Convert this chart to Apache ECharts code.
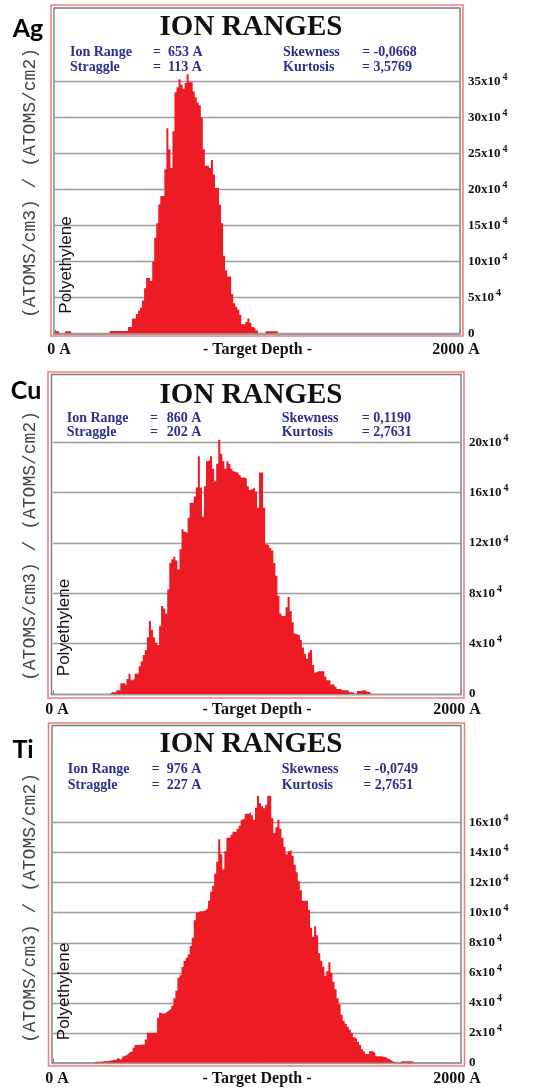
<!DOCTYPE html>
<html><head><meta charset="utf-8">
<script src="https://cdn.jsdelivr.net/npm/echarts@6/dist/echarts.min.js"></script>
<style>html,body{margin:0;padding:0;background:#fff}#c{width:544px;height:1088px}</style>
</head><body><div id="c"></div>
<script>
// ---------- data ----------
const binWidth = 10;            // depth bin width, Angstrom
const depthRange = [0, 2000];
const xTickLabels = ['0 A', '- Target Depth -', '2000 A'];
const elements = ['Ag', 'Cu', 'Ti'];
const chartTitle = 'ION RANGES';
const yAxisName = '(ATOMS/cm3) / (ATOMS/cm2)';
const targetName = 'Polyethylene';

const agStats = [['Ion Range', '=', '653 A', 'Skewness', '= -0,0668'], ['Straggle', '=', '113 A', 'Kurtosis', '= 3,5769']];
const cuStats = [['Ion Range', '=', '860 A', 'Skewness', '= 0,1190'], ['Straggle', '=', '202 A', 'Kurtosis', '= 2,7631']];
const tiStats = [['Ion Range', '=', '976 A', 'Skewness', '= -0,0749'], ['Straggle', '=', '227 A', 'Kurtosis', '= 2,7651']];

const agTicks = [0, 5, 10, 15, 20, 25, 30, 35];      // x10^4
const cuTicks = [0, 4, 8, 12, 16, 20];
const tiTicks = [0, 2, 4, 6, 8, 10, 12, 14, 16];

// histogram heights (x10^4 atoms/cm3 per atoms/cm2), one per 10 A bin starting at 0 A
const agValues = [0.3,0.3,0,0,0,0.3,0.3,0.3,
 0,0,0,0,0,0,0,0,0,0,0,0,0,0,0,0,0,0,0,
 0.35,0.35,0.35,0.35,0.35,0.35,0.35,0.35,0.35,
 0.9,0.9,2.1,2.1,2.7,3.2,3.6,4.6,6.3,7.7,7.7,7.3,10,13.3,15.3,17.9,19.1,19.1,22.8,28.5,25.6,23,28.1,
 33.5,34.2,35.3,34.6,34,34.8,36,34.9,34.9,33.6,32.8,32.1,31.7,30,25.6,23.3,23.3,23,24.1,22.1,20.2,20.2,
 17.9,15.3,10.8,8.8,7.9,7.9,5.5,4.2,3.7,3.3,2.6,1.3,1.3,1.6,2.1,1.5,0.9,0.7,0.4,
 0,0,0,0,0.3,0.3,0.3,0.3,0.3,0.3];

const cuValues = [0,0,0,0,0,0,0,0,0,0,0,0,0,0,0,0,0,0,0,0,0,0,0,0,0,0,0,0,
 0.13,0.13,0.13,0.3,0.3,0.85,0.85,0.7,1.2,1.6,1.1,1.2,1.6,1.6,2.2,2.6,3.1,3.5,4.5,5.8,5.1,4.5,4.1,3.9,
 5.4,7.0,6.8,6.4,8.3,10.4,10.7,10.9,10.6,9.9,11.5,13.1,12.9,12.8,14.0,15.2,15.2,15.7,16.4,18.9,16.4,14.1,
 16.5,18.5,18.6,18.9,17.9,16.9,18.3,20.2,19.1,18.5,17.9,18.5,18.3,17.9,17.7,17.6,17.6,17.4,17.2,17.2,17.1,
 16.5,16.2,16.3,16.4,16.1,14.8,17.6,17.6,14.8,11.9,11.8,11.6,11.4,10.4,9.4,7.8,6.4,6.2,6.2,6.9,7.7,6.6,
 5.7,4.8,4.7,4.7,4.3,3.7,3.2,2.8,3.3,3.5,2.3,1.7,1.8,1.8,1.8,1.8,1.4,1.1,1.1,0.76,0.76,0.58,0.39,0.39,
 0.3,0.3,0.3,0.3,0.13,0.13,0,0,0.24,0.24,0.3,0.3,0.18,0.18,0.05];

const tiValues = [0,0,0,0,0,0,0,0,0,0,0,0,0,0,0,0,0,0,0,0,
 0.07,0.07,0.07,0.07,0.1,0.1,0.12,0.15,0.15,0.2,0.2,0.33,0.2,0.3,0.44,0.5,0.6,0.73,0.73,1.0,1.18,1.18,
 1.2,1.22,1.22,1.56,2.0,2.0,2.0,2.0,2.0,3.0,3.33,3.27,3.3,3.4,3.5,3.6,3.8,4.3,4.8,5.67,5.84,6.38,6.78,
 7.0,7.22,7.78,8.33,9.5,10.0,10.1,10.1,10.1,10.2,10.3,10.8,11.4,11.8,12.6,13.4,14.9,13.9,12.9,14.1,15.0,
 15.0,15.2,15.4,15.4,15.6,15.8,16.2,16.3,16.6,16.6,16.7,16.5,16.2,17.0,17.8,17.3,17.1,16.96,17.2,17.8,
 17.8,16.3,15.3,15.7,16.2,15.6,15.0,14.4,13.9,14.1,14.2,13.8,13.2,12.7,12.1,11.5,10.8,10.8,10.8,10.2,
 9.0,8.4,9.1,8.5,7.3,6.8,6.4,5.8,6.1,6.7,6.0,5.4,4.9,4.3,3.9,3.2,2.8,2.6,2.4,2.2,2.0,1.7,1.6,1.4,1.18,
 0.9,0.75,0.58,0.58,0.78,0.75,0.67,0.44,0.44,0.44,0.4,0.38,0.29,0.25,0.16,0.07,0.05,0,0,
 0.11,0.11,0.11,0.11,0.11,0.11,0.11];

// ---------- layout (pixels) ----------
const panels = [
  {values: agValues, ticks: agTicks, stats: agStats, left: 55, width: 405, baseline: 333.5, topLineY: 81.5,
   outer: [51, 5, 412, 331], inner: [54, 8, 406, 326], label: [28, 29], title: 27.8, rows: [52.3, 66.9],
   cols: [70, 153, 168, 283, 362], yName: 183, poly: [66, 265]},
  {values: cuValues, ticks: cuTicks, stats: cuStats, left: 53, width: 408, baseline: 694, topLineY: 442.3,
   outer: [48, 372, 416, 326], inner: [51.5, 374.5, 409.5, 320], label: [26, 391], title: 395.3, rows: [418.8, 431.9],
   cols: [66.7, 150, 166.7, 281.7, 361.7], yName: 546, poly: [64.5, 627.5]},
  {values: tiValues, ticks: tiTicks, stats: tiStats, left: 53, width: 408, baseline: 1062.8, topLineY: 822.7,
   outer: [48.5, 723, 416, 343], inner: [52, 725.5, 409, 337.5], label: [23, 750], title: 745, rows: [769.7, 785.7],
   cols: [67.7, 151.7, 166.7, 281.7, 363.3], yName: 908, poly: [64.5, 991.5]}
];

const serif = '"Liberation Serif", "Times New Roman", serif';
const RED = '#ed1c24';

function toSteps(vals) {
  const d = vals.map((v, i) => [i * binWidth, v]);
  d.push([vals.length * binWidth, 0]);
  return d;
}

const xLabelStyle = {fontFamily: serif, fontWeight: 'bold', fontSize: 16, color: '#111'};
const grids = [], xAxes = [], yAxes = [], series = [], graphics = [];
panels.forEach((p, i) => {
  const step = p.ticks[1] - p.ticks[0];
  const last = p.ticks[p.ticks.length - 1];
  const maxV = last + step;
  const pxPerUnit = (p.baseline - p.topLineY) / last;
  const h = maxV * pxPerUnit;
  grids.push({left: p.left, width: p.width, top: p.baseline - h, height: h});
  xAxes.push({
    type: 'value', gridIndex: i, min: depthRange[0], max: depthRange[1], interval: 1000,
    axisLine: {show: false}, splitLine: {show: false},
    axisTick: {show: true, inside: true, length: 4, lineStyle: {color: '#888', width: 1}},
    axisLabel: {margin: 8, ...xLabelStyle,
      formatter: v => {
        const k = Math.round(v / 1000);
        return '{' + ['l', 'm', 'r'][k] + '|' + xTickLabels[k] + '}';
      },
      rich: {
        l: {...xLabelStyle, padding: [0, 0, 0, 8]},
        m: {...xLabelStyle},
        r: {...xLabelStyle, padding: [0, 8, 0, 0]}
      }}
  });
  yAxes.push({
    type: 'value', gridIndex: i, position: 'right', min: 0, max: maxV, interval: step,
    axisLine: {show: false}, axisTick: {show: false},
    splitLine: {show: true, showMaxLine: false, lineStyle: {color: '#9d9d9d', width: 1.3}},
    axisLabel: {margin: 8, showMaxLabel: false,
      formatter: v => v === 0 ? '{b|0}' : '{b|' + v + 'x10}{s|4}',
      rich: {
        b: {fontFamily: serif, fontWeight: 'bold', fontSize: 13, color: '#111', lineHeight: 18},
        s: {fontFamily: serif, fontWeight: 'bold', fontSize: 10, color: '#111', verticalAlign: 'top', lineHeight: 18, padding: [0, 0, 0, 2]}
      }}
  });
  series.push({
    type: 'line', xAxisIndex: i, yAxisIndex: i, step: 'end', data: toSteps(p.values),
    symbol: 'none', lineStyle: {width: 0, color: RED}, areaStyle: {color: RED, opacity: 1},
    silent: true, z: 1
  });

  // frames
  graphics.push({type: 'rect', shape: {x: p.outer[0], y: p.outer[1], width: p.outer[2], height: p.outer[3]},
    style: {fill: 'none', stroke: '#ef7f7f', lineWidth: 1.6}, z: 0});
  graphics.push({type: 'rect', shape: {x: p.inner[0], y: p.inner[1], width: p.inner[2], height: p.inner[3]},
    style: {fill: 'none', stroke: '#7a7a7a', lineWidth: 1.4}, z: 0});
  // element label
  graphics.push({type: 'text', x: p.label[0], y: p.label[1],
    style: {text: elements[i], font: 'bold 25px Lato, "Open Sans", sans-serif', fill: '#000',
      align: 'center', verticalAlign: 'middle', textAlign: 'center', textVerticalAlign: 'middle'}});
  // title
  graphics.push({type: 'text', x: 251, y: p.title,
    style: {text: chartTitle, font: 'bold 29px ' + serif, fill: '#111',
      align: 'center', verticalAlign: 'middle', textAlign: 'center', textVerticalAlign: 'middle'}});
  // stats rows
  p.stats.forEach((row, r) => {
    row.forEach((t, c) => {
      graphics.push({type: 'text', x: p.cols[c], y: p.rows[r],
        style: {text: t, font: 'bold 14px ' + serif, fill: '#2d2f8e',
          align: 'left', verticalAlign: 'middle', textAlign: 'left', textVerticalAlign: 'middle'}});
    });
  });
  // y axis name
  graphics.push({type: 'text', x: 30, y: p.yName, rotation: Math.PI / 2,
    style: {text: yAxisName, font: '18px "Liberation Mono", "DejaVu Sans Mono", monospace', fill: '#444',
      align: 'center', verticalAlign: 'middle', textAlign: 'center', textVerticalAlign: 'middle'}});
  // target name
  graphics.push({type: 'text', x: p.poly[0], y: p.poly[1], rotation: Math.PI / 2, z: 10,
    style: {text: targetName, font: '17px "Liberation Sans", Arial, sans-serif', fill: '#111',
      align: 'center', verticalAlign: 'middle', textAlign: 'center', textVerticalAlign: 'middle'}});
});

const chart = echarts.init(document.getElementById('c'), null, {renderer: 'canvas'});
chart.setOption({
  backgroundColor: '#fff',
  animation: false,
  grid: grids, xAxis: xAxes, yAxis: yAxes, series: series,
  graphic: {elements: graphics}
});
</script></body></html>
